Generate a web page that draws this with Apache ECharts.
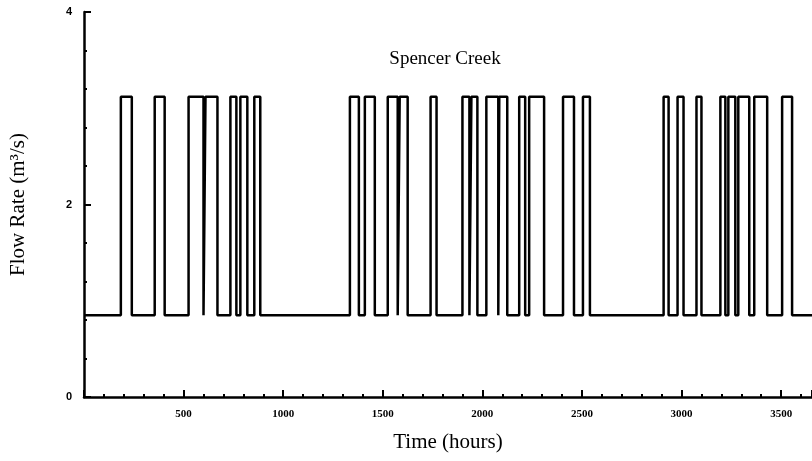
<!DOCTYPE html>
<html><head><meta charset="utf-8">
<script src="https://cdn.jsdelivr.net/npm/echarts@6/dist/echarts.min.js"></script>
<style>html,body{margin:0;padding:0;background:#fff}#c{width:812px;height:461px}</style>
</head><body><div id="c"></div>
<script>
// Pulse start/end times (hours)
const pulseStart = [185, 355, 525, 610, 735, 785, 855, 1335, 1410, 1525, 1585, 1740, 1900, 1945, 2020, 2085, 2185, 2235, 2405, 2505, 2910, 2980, 3075, 3195, 3235, 3285, 3365, 3505];
const pulseEnd   = [240, 405, 600, 670, 765, 820, 885, 1380, 1460, 1575, 1625, 1770, 1935, 1975, 2080, 2125, 2215, 2310, 2460, 2540, 2935, 3010, 3100, 3220, 3270, 3340, 3430, 3555];
const lowFlow = 0.85;
const highFlow = 3.12;
const timeStart = 0;
const timeEnd = 3655;
const xTickLabels = [500, 1000, 1500, 2000, 2500, 3000, 3500];
const yTickLabels = [0, 2, 4];

const series = [[timeStart, lowFlow]];
for (let i = 0; i < pulseStart.length; i++) {
  series.push([pulseStart[i], lowFlow], [pulseStart[i], highFlow], [pulseEnd[i], highFlow], [pulseEnd[i], lowFlow]);
}
series.push([timeEnd, lowFlow]);

const chart = echarts.init(document.getElementById('c'), null, {renderer: 'canvas'});
chart.setOption({
  animation: false,
  backgroundColor: '#fff',
  title: {
    text: 'Spencer Creek', left: 440, top: 45, textAlign: 'center',
    textStyle: {fontFamily: 'Liberation Serif', fontSize: 19, fontWeight: 'normal', color: '#000'}
  },
  grid: {left: 81, right: 0, top: 12, bottom: 64},
  xAxis: {
    type: 'value', min: timeStart, max: timeEnd, interval: 500,
    name: 'Time (hours)', nameLocation: 'middle', nameGap: 35,
    nameTextStyle: {fontFamily: 'Liberation Serif', fontSize: 21, color: '#000', padding: [0, 0, 0, 0]},
    axisLine: {lineStyle: {color: '#000', width: 2.5}},
    axisTick: {inside: true, length: 7, lineStyle: {color: '#000', width: 2}},
    minorTick: {show: true, splitNumber: 5, length: 3, lineStyle: {color: '#000', width: 2}},
    splitLine: {show: false},
    axisLabel: {
      margin: 12, fontFamily: 'Liberation Serif', fontWeight: 'bold', fontSize: 11, color: '#000',
      showMaxLabel: false,
      formatter: v => xTickLabels.includes(v) ? String(v) : ''
    }
  },
  yAxis: {
    type: 'value', min: 0, max: 4, interval: 2,
    name: 'Flow Rate (m³/s)', nameLocation: 'middle', nameGap: 55, nameRotate: 90,
    nameTextStyle: {fontFamily: 'Liberation Serif', fontSize: 21, color: '#000'},
    axisLine: {lineStyle: {color: '#000', width: 2.5}},
    axisTick: {inside: true, length: 7, lineStyle: {color: '#000', width: 2}},
    minorTick: {show: true, splitNumber: 5, length: 3, lineStyle: {color: '#000', width: 2}},
    splitLine: {show: false},
    axisLabel: {
      margin: 12, fontFamily: 'Liberation Sans', fontWeight: 'bold', fontSize: 11, color: '#000',
      formatter: v => yTickLabels.includes(v) ? String(v) : ''
    }
  },
  series: [{
    type: 'line', data: series, symbol: 'none',
    lineStyle: {color: '#000', width: 2.5}
  }]
});
</script></body></html>
